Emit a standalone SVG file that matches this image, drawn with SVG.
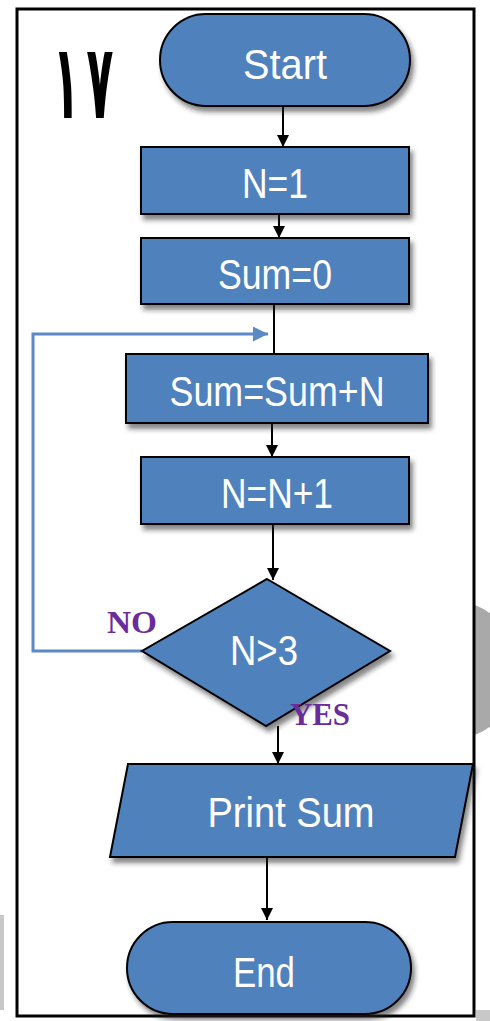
<svg xmlns="http://www.w3.org/2000/svg" width="490" height="1021" viewBox="0 0 490 1021">
<style>
.shape{fill:#4f81bd;stroke:#000;stroke-width:2;filter:url(#sh)}
.lbl{font-family:"Liberation Sans",Arial,sans-serif;font-size:43px;fill:#fff;text-anchor:middle}
.conn{stroke:#000;stroke-width:2;fill:none;marker-end:url(#ah)}
.tag{font-family:"Liberation Serif","Times New Roman",serif;font-weight:bold;font-size:31px;fill:#6a2c9a}
</style>
<defs>
<filter id="sh" x="-10%" y="-10%" width="130%" height="140%">
<feDropShadow dx="3" dy="5" stdDeviation="2.5" flood-color="#222" flood-opacity="0.55"/>
</filter>
<marker id="ah" viewBox="0 0 10 10" refX="10" refY="5" markerWidth="6" markerHeight="6" orient="auto" markerUnits="strokeWidth">
<path d="M0,0 L10,5 L0,10 z" fill="#000"/>
</marker>
<marker id="ahb" viewBox="0 0 10 10" refX="10" refY="5" markerWidth="5" markerHeight="5" orient="auto" markerUnits="strokeWidth">
<path d="M0,0 L10,5 L0,10 z" fill="#5b8ac6"/>
</marker>
</defs>
<rect width="490" height="1021" fill="#fff"/>
<g id="background">
<path d="M475,605 A70,70 0 0 1 475,735 Z" fill="#a9a9a9"/>
<rect x="0" y="915" width="4" height="95" fill="#c8c8c8"/>
<rect x="476" y="1010" width="14" height="11" fill="#c8c8c8"/>
</g>
<rect id="frame" x="17" y="9" width="457" height="1007" fill="none" stroke="#000" stroke-width="3"/>
<text id="number" transform="translate(83,118) scale(0.55,1.3)" x="0" y="0" font-family="'DejaVu Sans',sans-serif" font-weight="bold" font-size="80" fill="#000" text-anchor="middle" textLength="110" lengthAdjust="spacing">١٧</text>
<g id="connectors">
<line class="conn" x1="283" y1="106" x2="283" y2="147"/>
<line class="conn" x1="279" y1="214" x2="279" y2="238"/>
<line x1="274" y1="304" x2="274" y2="354" stroke="#000" stroke-width="2"/>
<line class="conn" x1="272" y1="423" x2="272" y2="457"/>
<line class="conn" x1="273" y1="524" x2="273" y2="580"/>
<line class="conn" x1="278" y1="726" x2="278" y2="764"/>
<line class="conn" x1="267" y1="857" x2="267" y2="920"/>
<polyline points="142,651 33,651 33,334 268,334" fill="none" stroke="#5b8ac6" stroke-width="3" marker-end="url(#ahb)"/>
</g>
<g id="start">
<rect class="shape" x="160" y="14" width="250" height="92" rx="46" ry="46"/>
<text class="lbl" x="285" y="79" textLength="84" lengthAdjust="spacingAndGlyphs">Start</text>
</g>
<g id="n1">
<rect class="shape" x="141" y="147" width="268" height="67"/>
<text class="lbl" x="275" y="198" textLength="66" lengthAdjust="spacingAndGlyphs">N=1</text>
</g>
<g id="sum0">
<rect class="shape" x="141" y="238" width="268" height="66"/>
<text class="lbl" x="275" y="289" textLength="114" lengthAdjust="spacingAndGlyphs">Sum=0</text>
</g>
<g id="sumsum">
<rect class="shape" x="126" y="354" width="302" height="69"/>
<text class="lbl" x="277" y="406" textLength="215" lengthAdjust="spacingAndGlyphs">Sum=Sum+N</text>
</g>
<g id="nn1">
<rect class="shape" x="141" y="457" width="268" height="67"/>
<text class="lbl" x="277" y="508" textLength="112" lengthAdjust="spacingAndGlyphs">N=N+1</text>
</g>
<g id="decision">
<polygon class="shape" points="267,579 390,651 266,726 142,651"/>
<text class="lbl" x="264" y="665" textLength="68" lengthAdjust="spacingAndGlyphs">N&gt;3</text>
<text class="tag" x="107" y="633" textLength="50" lengthAdjust="spacingAndGlyphs">NO</text>
<text class="tag" x="290" y="725" textLength="60" lengthAdjust="spacingAndGlyphs">YES</text>
</g>
<g id="print">
<polygon class="shape" points="128,764 473,764 455,857 110,857"/>
<text class="lbl" x="291" y="827" textLength="167" lengthAdjust="spacingAndGlyphs">Print Sum</text>
</g>
<g id="end">
<rect class="shape" x="127" y="922" width="284" height="92" rx="46" ry="46"/>
<text class="lbl" x="264" y="987" textLength="62" lengthAdjust="spacingAndGlyphs">End</text>
</g>
</svg>
